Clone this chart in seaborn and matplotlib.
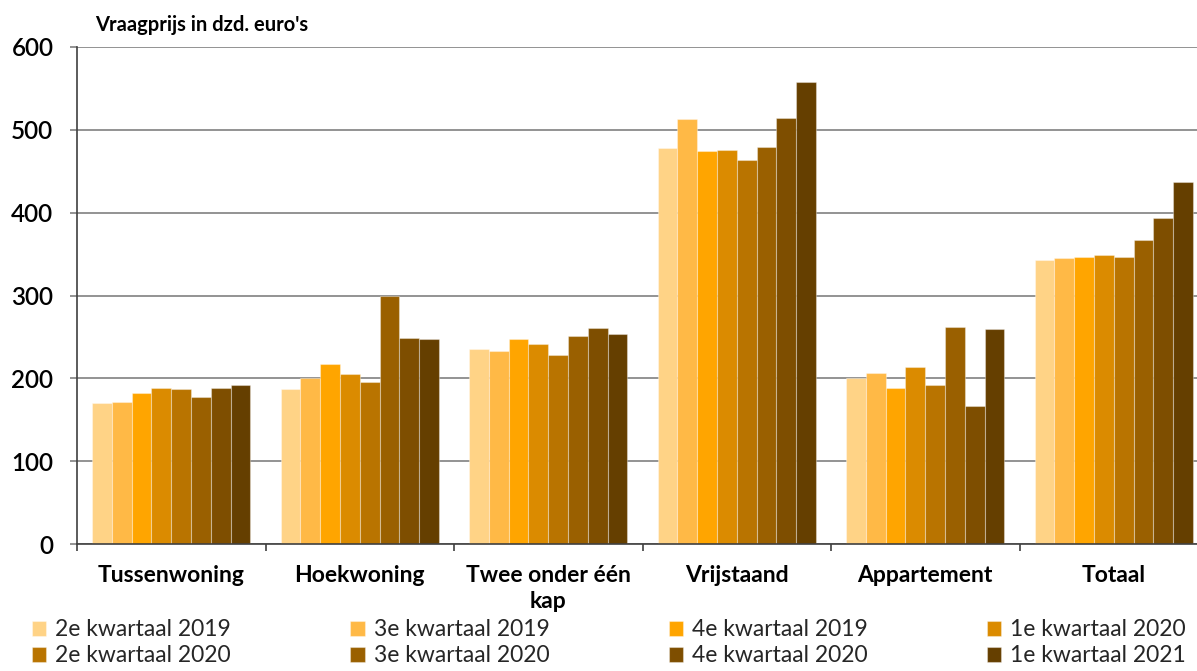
import matplotlib
matplotlib.use("Agg")
import matplotlib.pyplot as plt
import seaborn as sns
import pandas as pd
import numpy as np

categories = ["Tussenwoning", "Hoekwoning", "Twee onder één\nkap", "Vrijstaand", "Appartement", "Totaal"]
periods = ["2e kwartaal 2019", "3e kwartaal 2019", "4e kwartaal 2019", "1e kwartaal 2020",
           "2e kwartaal 2020", "3e kwartaal 2020", "4e kwartaal 2020", "1e kwartaal 2021"]
colors = ["#FFD386", "#FFB946", "#FFA500", "#DB8B00", "#B97400", "#9A6000", "#7E4E00", "#653F00"]

tussenwoning = [170, 171, 182, 188, 187, 178, 188, 192]
hoekwoning = [187, 200, 217, 205, 196, 300, 249, 248]
twee_onder_een_kap = [235, 233, 248, 241, 228, 251, 261, 253]
vrijstaand = [478, 513, 474, 476, 464, 479, 514, 558]
appartement = [200, 206, 188, 214, 192, 262, 167, 260]
totaal = [343, 345, 346, 349, 347, 367, 394, 437]

series = [tussenwoning, hoekwoning, twee_onder_een_kap, vrijstaand, appartement, totaal]
yticks = [0, 100, 200, 300, 400, 500, 600]

rows = []
for cat, vals in zip(categories, series):
    for p, v in zip(periods, vals):
        rows.append({"cat": cat, "period": p, "val": v})
df = pd.DataFrame(rows)

sns.set_theme(style="white")
plt.rcParams["font.family"] = ["Lato", "DejaVu Sans"]

W, H = 1197, 671
fig = plt.figure(figsize=(W / 100, H / 100), dpi=100)
ax = fig.add_axes([77 / W, 1 - 544 / H, (1208 - 77) / W, (544 - 47) / H])

sns.barplot(data=df, x="cat", y="val", hue="period", order=categories, hue_order=periods,
            palette=colors, width=0.84, saturation=1, ax=ax, legend=True,
            edgecolor=(1, 1, 1, 0.35), linewidth=0.8)

ax.set_axisbelow(True)
ax.set_ylim(0, 600)
ax.set_xlim(-0.5, len(categories) - 0.5)
ax.set_yticks(yticks)
ax.yaxis.grid(True, color="#808080", linewidth=1.2)
ax.xaxis.grid(False)
ax.set_xlabel("")
ax.set_ylabel("")

for s in ["top", "right"]:
    ax.spines[s].set_visible(False)
for s in ["left", "bottom"]:
    ax.spines[s].set_color("#404040")
    ax.spines[s].set_linewidth(1.2)

ax.tick_params(axis="y", which="major", left=True, length=5, width=1.2, color="#808080",
               pad=12, labelsize=17.5, labelcolor="black")
for t in ax.get_yticklabels():
    t.set_fontweight("semibold")

ax.tick_params(axis="x", which="major", bottom=False, length=0, pad=15, labelsize=16.5, labelcolor="black")
for t in ax.get_xticklabels():
    t.set_fontweight("bold")
    t.set_linespacing(1.3)
ax.set_xticks(np.arange(len(categories) + 1) - 0.5, minor=True)
ax.tick_params(axis="x", which="minor", bottom=True, length=5, width=1.2, color="#404040")

fig.text(95 / W, 1 - 31 / H, "Vraagprijs in dzd. euro's", fontsize=14.5, fontweight="bold",
         va="baseline", ha="left", color="black")

handles, labels = ax.get_legend_handles_labels()
ax.get_legend().remove()
order = [0, 4, 1, 5, 2, 6, 3, 7]
fig.legend([handles[i] for i in order], [labels[i] for i in order], ncol=4,
           loc="upper left", bbox_to_anchor=(32 / W, 1 - 626 / H, (1186 - 32) / W, 0.01),
           mode="expand", frameon=False, fontsize=16.5, handlelength=0.62, handleheight=0.62,
           handletextpad=0.4, labelspacing=0.22, borderpad=0, borderaxespad=0)

fig.savefig("out.png", dpi=100)
